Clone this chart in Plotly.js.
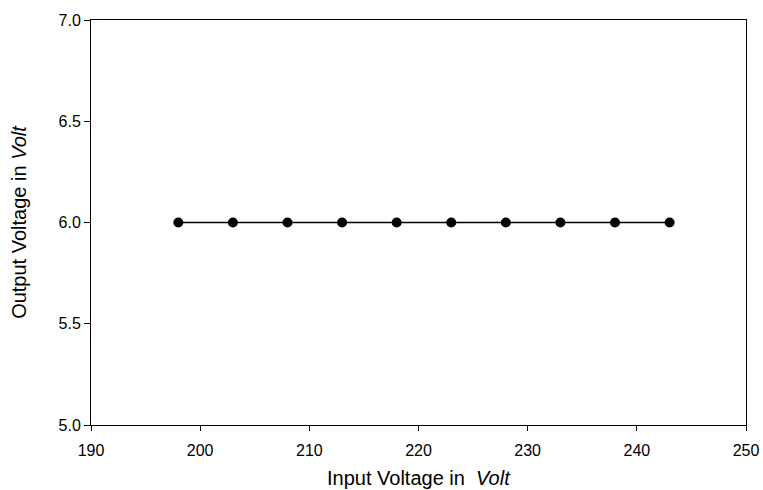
<!DOCTYPE html>
<html>
<head>
<meta charset="utf-8">
<script src="https://cdn.plot.ly/plotly-3.0.1.min.js"></script>
<style>html,body{margin:0;padding:0;background:#fff;}#chart{width:763px;height:490px;}</style>
</head>
<body>
<div id="chart"></div>
<script>
const inputVoltage = [198, 203, 208, 213, 218, 223, 228, 233, 238, 243];
const outputVoltage = [6.0, 6.0, 6.0, 6.0, 6.0, 6.0, 6.0, 6.0, 6.0, 6.0];
const xTicks = [190, 200, 210, 220, 230, 240, 250];
const yTicks = [5.0, 5.5, 6.0, 6.5, 7.0];
const yTickLabels = ["5.0", "5.5", "6.0", "6.5", "7.0"];
const xTitle = 'Input Voltage in  <i>Volt</i>';
const yTitle = 'Output Voltage in <i>Volt</i>';

const trace = {
  x: inputVoltage,
  y: outputVoltage,
  mode: 'lines+markers',
  type: 'scatter',
  line: {color: '#000', width: 1.3},
  marker: {color: '#000', size: 10},
  cliponaxis: false
};

const fam = 'Liberation Sans, Arial, sans-serif';
const tickFont = {family: fam, size: 16, color: '#000'};
const titleFont = {family: fam, size: 20, color: '#000'};

const layout = {
  width: 763, height: 490,
  margin: {l: 91, r: 17, t: 20, b: 65},
  paper_bgcolor: '#fff', plot_bgcolor: '#fff',
  showlegend: false,
  font: tickFont,
  xaxis: {
    range: [190, 250],
    tickvals: xTicks,
    ticks: 'outside', ticklen: 5, tickwidth: 1, tickcolor: '#000',
    ticklabelstandoff: 6,
    showline: true, linecolor: '#000', linewidth: 1, mirror: true,
    showgrid: false, zeroline: false,
    tickfont: tickFont,
    automargin: false
  },
  yaxis: {
    range: [5.0, 7.0],
    tickvals: yTicks,
    ticktext: yTickLabels,
    ticks: 'outside', ticklen: 6, tickwidth: 1, tickcolor: '#000',
    showline: true, linecolor: '#000', linewidth: 1, mirror: true,
    showgrid: false, zeroline: false,
    tickfont: tickFont,
    title: {text: yTitle, font: titleFont, standoff: 26},
    automargin: false
  },
  annotations: [{
    text: xTitle,
    xref: 'paper', yref: 'paper',
    x: 0.5, y: 0,
    xanchor: 'center', yanchor: 'middle',
    yshift: -53,
    showarrow: false,
    font: titleFont
  }]
};

Plotly.newPlot('chart', [trace], layout, {displayModeBar: false, staticPlot: true});
</script>
</body>
</html>
